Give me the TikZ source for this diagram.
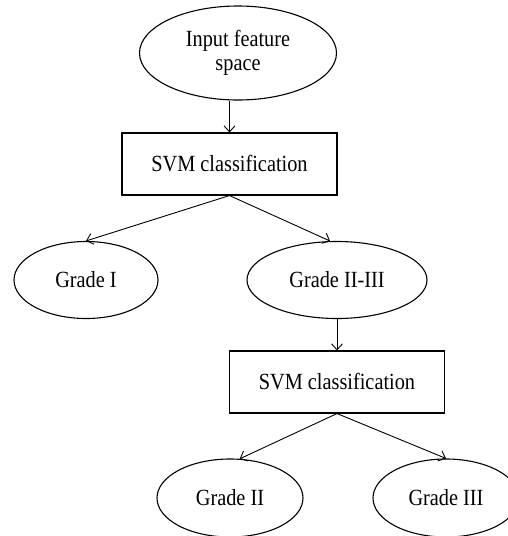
\documentclass[tikz,border=0pt]{standalone}
\usepackage{fontspec}
\setmainfont{Liberation Serif}
\usetikzlibrary{shapes.geometric,arrows.meta}
\newcommand\talltext[1]{\scalebox{1}[1.14]{#1}}
\begin{document}
\begin{tikzpicture}[x=1pt,y=-1pt,
  every node/.style={font=\fontsize{20.3}{24}\selectfont, text=black},
  oval/.style={draw, ellipse, line width=1.1pt, inner sep=0pt, align=center},
  procbox/.style={draw, rectangle, line width=1.1pt, inner sep=0pt, minimum width=215pt, minimum height=62pt},
  link/.style={line width=0.9pt, -{Straight Barb[length=6pt,width=11pt]}}]
\clip (0,0) rectangle (508,536);
\node[oval, minimum width=197pt, minimum height=94pt] (in) at (238,53) {\talltext{Input feature}\\\talltext{space}};
\node[procbox] (s1) at (229.5,164) {\talltext{SVM classification}};
\node[oval, minimum width=144pt, minimum height=77pt] (g1) at (86,280) {\talltext{Grade I}};
\node[oval, minimum width=180pt, minimum height=77pt] (g23) at (337,280) {\talltext{Grade II-III}};
\node[procbox] (s2) at (337,382) {\talltext{SVM classification}};
\node[oval, minimum width=146pt, minimum height=78pt] (g2) at (230,498) {\talltext{Grade II}};
\node[oval, minimum width=146pt, minimum height=78pt] (g3) at (446,498) {\talltext{Grade III}};
\draw[link] (s1.north |- in.south) -- (s1.north);
\draw[link] (s1.south) -- (g1.north);
\draw[link] (s1.south) -- (g23.100);
\draw[link] (g23.south) -- (s2.north);
\draw[link] (s2.south) -- (g2.76);
\draw[link] (s2.south) -- (g3.north);
\end{tikzpicture}
\end{document}
